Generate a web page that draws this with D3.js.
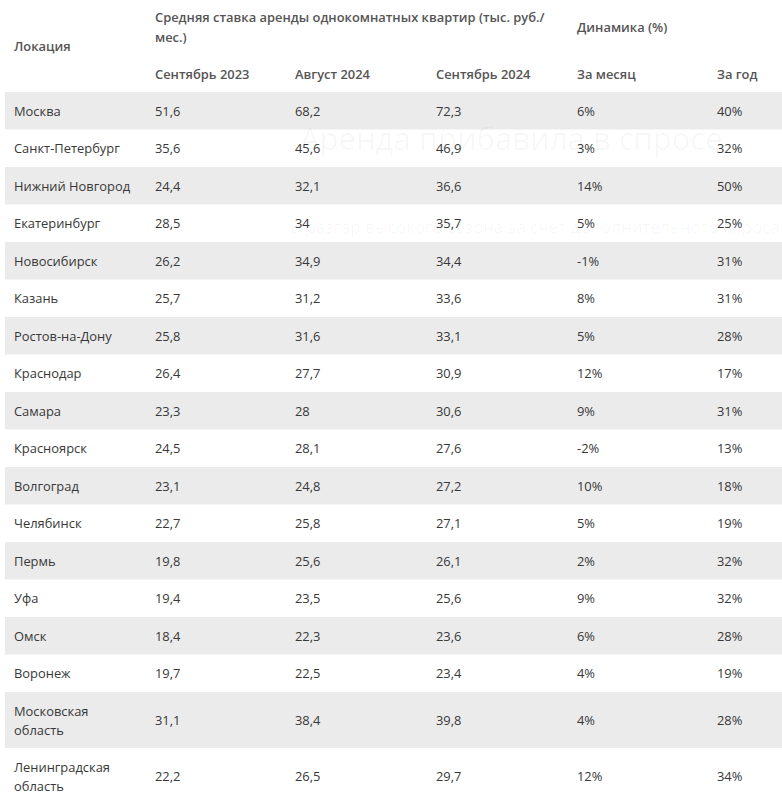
<!DOCTYPE html>
<html>
<head>
<meta charset="utf-8">
<script src="https://cdn.jsdelivr.net/npm/d3@7"></script>
<style>
  body { margin: 0; background: #fff; }
  svg text { font-family: "Open Sans", sans-serif; }
  .cell { font-size: 12.9px; fill: #383838; }
  .head { font-size: 12.9px; fill: #555; font-weight: 600; }
  .ghost { fill: #000; fill-opacity: 0.035; }
</style>
</head>
<body>
<svg id="table" width="782" height="800"></svg>
<script>
// rows of the table
var locations = [
  ['Москва'], ['Санкт-Петербург'], ['Нижний Новгород'], ['Екатеринбург'],
  ['Новосибирск'], ['Казань'], ['Ростов-на-Дону'], ['Краснодар'], ['Самара'],
  ['Красноярск'], ['Волгоград'], ['Челябинск'], ['Пермь'], ['Уфа'], ['Омск'],
  ['Воронеж'], ['Московская', 'область'], ['Ленинградская', 'область']
];
var sep2023 = ['51,6','35,6','24,4','28,5','26,2','25,7','25,8','26,4','23,3','24,5','23,1','22,7','19,8','19,4','18,4','19,7','31,1','22,2'];
var aug2024 = ['68,2','45,6','32,1','34','34,9','31,2','31,6','27,7','28','28,1','24,8','25,8','25,6','23,5','22,3','22,5','38,4','26,5'];
var sep2024 = ['72,3','46,9','36,6','35,7','34,4','33,6','33,1','30,9','30,6','27,6','27,2','27,1','26,1','25,6','23,6','23,4','39,8','29,7'];
var perMonth = ['6%','3%','14%','5%','-1%','8%','5%','12%','9%','-2%','10%','5%','2%','9%','6%','4%','4%','12%'];
var perYear = ['40%','32%','50%','25%','31%','31%','28%','17%','31%','13%','18%','19%','32%','32%','28%','19%','28%','34%'];

var columns = ['loc', 's23', 'a24', 's24', 'm', 'y'];
var subHeaders = ['', 'Сентябрь 2023', 'Август 2024', 'Сентябрь 2024', 'За месяц', 'За год'];

var svg = d3.select('#table');
var W = 782;

var x = d3.scaleOrdinal().domain(columns).range([14, 155, 295, 436, 577, 717]);

// header
svg.append('text').attr('class', 'head').attr('x', x('loc')).attr('y', 51).text('Локация');
svg.append('text').attr('class', 'head').attr('x', x('s23')).attr('y', 22)
  .text('Средняя ставка аренды однокомнатных квартир (тыс. руб./');
svg.append('text').attr('class', 'head').attr('x', x('s23')).attr('y', 42).text('мес.)');
svg.append('text').attr('class', 'head').attr('x', x('m')).attr('y', 32).text('Динамика (%)');
svg.selectAll('text.sub').data(columns.slice(1)).enter().append('text')
  .attr('class', 'head sub')
  .attr('x', function(d){ return x(d); })
  .attr('y', 79)
  .text(function(d, i){ return subHeaders[i + 1]; });

// rows: height by number of lines in the location name
var rows = locations.map(function(l, i){
  return { lines: l, vals: [sep2023[i], aug2024[i], sep2024[i], perMonth[i], perYear[i]] };
});
var rowTop = 92;
rows.forEach(function(r){
  r.h = r.lines.length > 1 ? 56 : 37.5;
  r.y = rowTop;
  rowTop += r.h;
});

var g = svg.selectAll('g.row').data(rows).enter().append('g')
  .attr('class', 'row')
  .attr('transform', function(d){ return 'translate(0,' + d.y + ')'; });

g.append('rect')
  .attr('x', 5).attr('width', W - 5)
  .attr('height', function(d){ return d.h; })
  .attr('fill', function(d, i){ return i % 2 === 0 ? '#ebebeb' : 'none'; });

// faint background text from the page behind (shows through the white rows)
svg.append('text').attr('class', 'ghost').attr('x', 300).attr('y', 150)
  .style('font-size', '31px').text('Аренда прибавила в спросе');
svg.append('text').attr('class', 'ghost').attr('x', 290).attr('y', 233)
  .style('font-size', '17px').text('В разгар высокого сезона за счет дополнительного спроса');

g.each(function(d){
  var row = d3.select(this);
  var mid = d.h / 2;
  d.lines.forEach(function(line, k){
    row.append('text').attr('class', 'cell')
      .attr('x', x('loc'))
      .attr('y', mid + 5 + (k - (d.lines.length - 1) / 2) * 19)
      .text(line);
  });
  columns.slice(1).forEach(function(c, j){
    row.append('text').attr('class', 'cell')
      .attr('x', x(c))
      .attr('y', mid + 5)
      .text(d.vals[j]);
  });
});
</script>
</body>
</html>
